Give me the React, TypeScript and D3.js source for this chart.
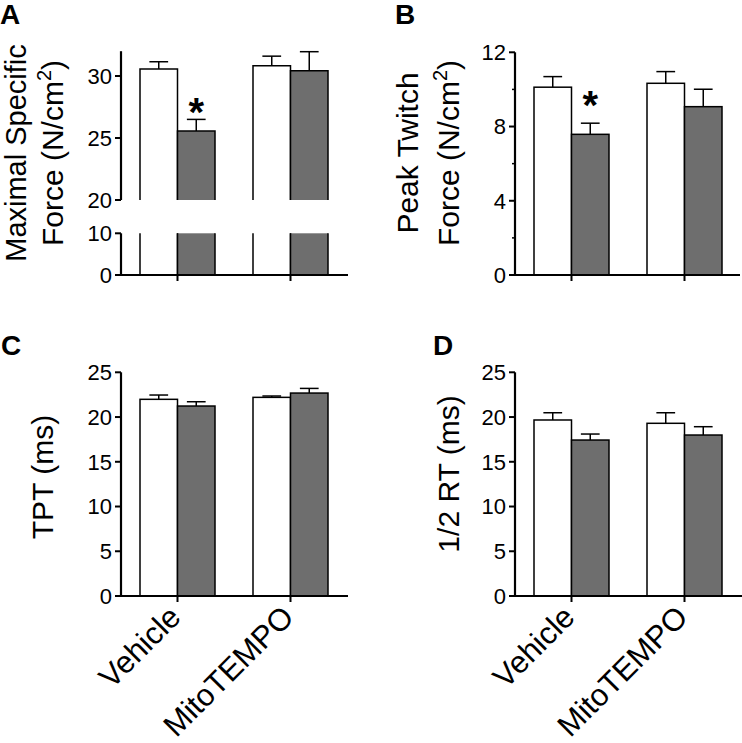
import React from "react";
import * as d3 from "d3";

const groups = ["Vehicle", "MitoTEMPO"];
const seriesKeys = ["Control", "Treated"];
const seriesFill = ["#ffffff", "#6e6e6e"];

// Panel A: Maximal specific force (N/cm2)
const forceMean = [
  [30.56, 30.83],
  [25.56, 30.43],
];
const forceSem = [
  [0.59, 0.77],
  [0.94, 1.53],
];
// Panel B: Peak twitch force (N/cm2)
const twitchMean = [
  [10.12, 10.33],
  [7.58, 9.07],
];
const twitchSem = [
  [0.57, 0.63],
  [0.6, 0.94],
];
// Panel C: TPT (ms)
const tptMean = [
  [21.98, 22.2],
  [21.23, 22.68],
];
const tptSem = [
  [0.48, 0.15],
  [0.48, 0.52],
];
// Panel D: 1/2 RT (ms)
const rtMean = [
  [19.67, 19.3],
  [17.43, 17.99],
];
const rtSem = [
  [0.81, 1.18],
  [0.67, 0.93],
];

const ticksA_upper = [20, 25, 30];
const ticksA_lower = [0, 10];
const ticksB = [0, 4, 8, 12];
const minorB = [2, 6, 10];
const ticksCD = [0, 5, 10, 15, 20, 25];

const FONT = "'Liberation Sans', Arial, Helvetica, sans-serif";

type Scale = (v: number) => number;

function YTicks({ ax, scale, ticks, minor = [] as number[] }: { ax: number; scale: Scale; ticks: number[]; minor?: number[] }) {
  return (
    <g>
      {ticks.map((t) => (
        <g key={"t" + t}>
          <line x1={ax - 6} x2={ax} y1={scale(t)} y2={scale(t)} stroke="#000" strokeWidth={2} />
          <text x={ax - 9} y={scale(t)} dy="0.36em" textAnchor="end" fontSize={22} fontFamily={FONT}>
            {t}
          </text>
        </g>
      ))}
      {minor.map((t) => (
        <line key={"m" + t} x1={ax - 3} x2={ax} y1={scale(t)} y2={scale(t)} stroke="#000" strokeWidth={1.5} />
      ))}
    </g>
  );
}

function XAxis({ ax, axisY, xEnd, xs }: { ax: number; axisY: number; xEnd: number; xs: d3.ScalePoint<string> }) {
  return (
    <g>
      <line x1={ax - 4} x2={xEnd} y1={axisY} y2={axisY} stroke="#000" strokeWidth={2.2} />
      {groups.map((g) => (
        <line key={g} x1={xs(g)!} x2={xs(g)!} y1={axisY} y2={axisY + 6} stroke="#000" strokeWidth={2} />
      ))}
    </g>
  );
}

function XLabels({ axisY, xs }: { axisY: number; xs: d3.ScalePoint<string> }) {
  return (
    <g>
      {groups.map((g) => (
        <text
          key={g}
          transform={`translate(${xs(g)! + 5},${axisY + 23}) rotate(-45)`}
          textAnchor="end"
          fontSize={31}
          fontFamily={FONT}
        >
          {g}
        </text>
      ))}
    </g>
  );
}

function Bars({ xs, sub, scale, base, mean, sem, stars, starDy = -4 }: any) {
  const out: any[] = [];
  seriesKeys.forEach((s, si) => {
    groups.forEach((g, gi) => {
      const x0 = xs(g) + sub(s);
      const w = sub.bandwidth();
      const v = mean[si][gi];
      const e = v + sem[si][gi];
      const cx = x0 + w / 2;
      out.push(
        <g key={s + g}>
          <rect x={x0} y={scale(v)} width={w} height={base - scale(v)} fill={seriesFill[si]} stroke="#000" strokeWidth={1.5} />
          <line x1={cx} x2={cx} y1={scale(v)} y2={scale(e)} stroke="#000" strokeWidth={1.5} />
          <line x1={cx - w / 4} x2={cx + w / 4} y1={scale(e)} y2={scale(e)} stroke="#000" strokeWidth={1.5} />
          {stars && stars[si][gi] ? (
            <text x={cx} y={scale(e) + starDy} textAnchor="middle" fontSize={40} fontWeight="bold" fontFamily={FONT}>
              *
            </text>
          ) : null}
        </g>
      );
    });
  });
  return <g>{out}</g>;
}

function makeX(ax: number) {
  const xs = d3.scalePoint<string>().domain(groups).range([ax, ax + 226]).padding(0.5);
  const sub = d3.scaleBand<string>().domain(seriesKeys).range([-37.5, 37.5]).paddingInner(0);
  return { xs, sub };
}

function PanelA() {
  const ax = 121;
  const axisY = 275;
  const yU = d3.scaleLinear().domain([20, 32]).range([200, 51.2]);
  const yL = d3.scaleLinear().domain([0, 10]).range([axisY, 233.3]);
  const { xs, sub } = makeX(ax);
  const w = sub.bandwidth();
  const stars = [
    [false, false],
    [true, false],
  ];
  const items: any[] = [];
  seriesKeys.forEach((s, si) => {
    groups.forEach((g, gi) => {
      const x0 = xs(g)! + sub(s)!;
      const x1 = x0 + w;
      const v = forceMean[si][gi];
      const e = v + forceSem[si][gi];
      const cx = x0 + w / 2;
      const yTopU = yU(v);
      items.push(
        <g key={s + g}>
          <rect x={x0} y={yTopU} width={w} height={yU(20) - yTopU} fill={seriesFill[si]} />
          <path d={`M${x0},${yU(20)}V${yTopU}H${x1}V${yU(20)}`} fill="none" stroke="#000" strokeWidth={1.5} />
          <rect x={x0} y={yL(10)} width={w} height={axisY - yL(10)} fill={seriesFill[si]} />
          <path d={`M${x0},${yL(10)}V${axisY}M${x1},${yL(10)}V${axisY}`} fill="none" stroke="#000" strokeWidth={1.5} />
          <line x1={cx} x2={cx} y1={yTopU} y2={yU(e)} stroke="#000" strokeWidth={1.5} />
          <line x1={cx - w / 4} x2={cx + w / 4} y1={yU(e)} y2={yU(e)} stroke="#000" strokeWidth={1.5} />
          {stars[si][gi] ? (
            <text x={cx} y={yU(e) + 7} textAnchor="middle" fontSize={40} fontWeight="bold" fontFamily={FONT}>
              *
            </text>
          ) : null}
        </g>
      );
    });
  });
  return (
    <g>
      <text x={0} y={24} fontSize={28} fontWeight="bold" fontFamily={FONT}>A</text>
      <text transform={`translate(26,153) rotate(-90)`} textAnchor="middle" fontSize={29} fontFamily={FONT}>
        Maximal Specific
      </text>
      <text transform={`translate(63,153) rotate(-90)`} textAnchor="middle" fontSize={30} fontFamily={FONT}>
        Force (N/cm<tspan fontSize={20} dy={-12}>2</tspan><tspan dy={12}>)</tspan>
      </text>
      {items}
      <line x1={ax} x2={ax} y1={yU(32)} y2={yU(20)} stroke="#000" strokeWidth={2.2} />
      <line x1={ax} x2={ax} y1={yL(10)} y2={axisY} stroke="#000" strokeWidth={2.2} />
      <YTicks ax={ax} scale={yU} ticks={ticksA_upper} />
      <YTicks ax={ax} scale={yL} ticks={ticksA_lower} />
      <XAxis ax={ax} axisY={axisY} xEnd={348} xs={xs} />
    </g>
  );
}

function PanelB() {
  const ax = 515;
  const axisY = 275;
  const y = d3.scaleLinear().domain([0, 12]).range([axisY, 52.3]);
  const { xs, sub } = makeX(ax);
  return (
    <g>
      <text x={395} y={24} fontSize={28} fontWeight="bold" fontFamily={FONT}>B</text>
      <text transform={`translate(418,153) rotate(-90)`} textAnchor="middle" fontSize={30} fontFamily={FONT}>
        Peak Twitch
      </text>
      <text transform={`translate(459,153) rotate(-90)`} textAnchor="middle" fontSize={30} fontFamily={FONT}>
        Force (N/cm<tspan fontSize={20} dy={-12}>2</tspan><tspan dy={12}>)</tspan>
      </text>
      <Bars xs={xs} sub={sub} scale={y} base={axisY} mean={twitchMean} sem={twitchSem} stars={[[false, false], [true, false]]} starDy={-4} />
      <line x1={ax} x2={ax} y1={y(12)} y2={axisY} stroke="#000" strokeWidth={2.2} />
      <YTicks ax={ax} scale={y} ticks={ticksB} minor={minorB} />
      <XAxis ax={ax} axisY={axisY} xEnd={740} xs={xs} />
    </g>
  );
}

function PanelCD({ ax, letter, lx, title, tx, ty, mean, sem }: any) {
  const axisY = 596;
  const y = d3.scaleLinear().domain([0, 25]).range([axisY, 372.3]);
  const { xs, sub } = makeX(ax);
  return (
    <g>
      <text x={lx} y={355} fontSize={28} fontWeight="bold" fontFamily={FONT}>{letter}</text>
      <text transform={`translate(${tx},${ty}) rotate(-90)`} textAnchor="middle" fontSize={30} fontFamily={FONT}>
        {title}
      </text>
      <Bars xs={xs} sub={sub} scale={y} base={axisY} mean={mean} sem={sem} />
      <line x1={ax} x2={ax} y1={y(25)} y2={axisY} stroke="#000" strokeWidth={2.2} />
      <YTicks ax={ax} scale={y} ticks={ticksCD} />
      <XAxis ax={ax} axisY={axisY} xEnd={ax + 227} xs={xs} />
      <XLabels axisY={axisY} xs={xs} />
    </g>
  );
}

export default function App() {
  return (
    <svg
      width={742}
      height={743}
      viewBox="0 0 742 743"
      style={{ position: "absolute", left: 0, top: 0, background: "#fff" }}
    >
      <rect width={742} height={743} fill="#fff" />
      <PanelA />
      <PanelB />
      <PanelCD ax={121} letter="C" lx={1} title="TPT (ms)" tx={53} ty={477} mean={tptMean} sem={tptSem} />
      <PanelCD ax={515} letter="D" lx={433} title="1/2 RT (ms)" tx={459} ty={474} mean={rtMean} sem={rtSem} />
    </svg>
  );
}
